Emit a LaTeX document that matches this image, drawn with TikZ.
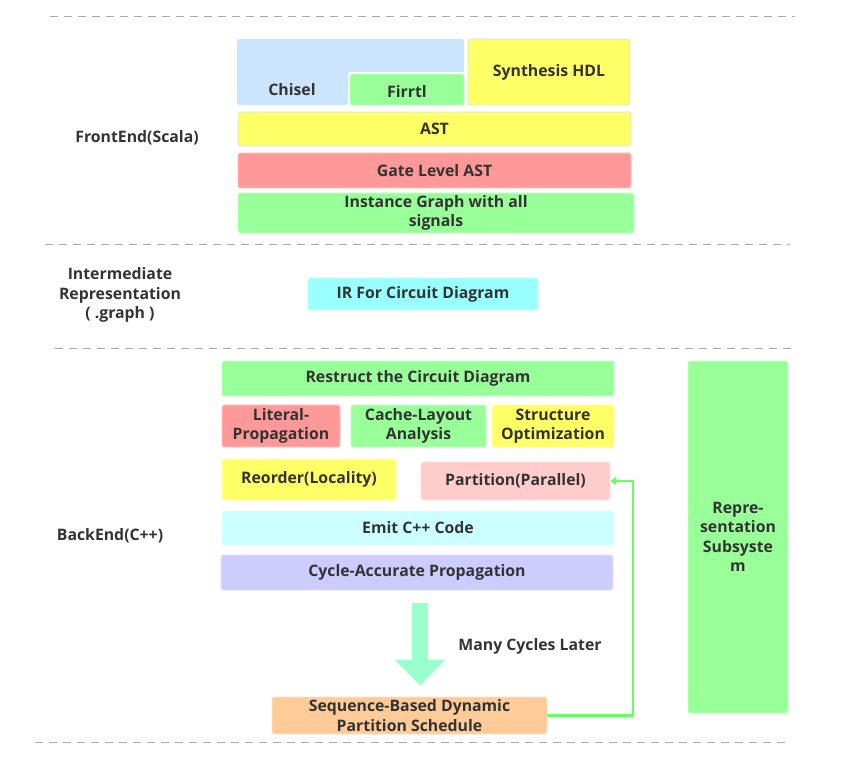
\documentclass[tikz,border=0pt]{standalone}
\usepackage{fontspec}
\setmainfont{Open Sans}
\usetikzlibrary{positioning,arrows.meta}
\definecolor{txtgray}{RGB}{51,51,51}
\definecolor{dashgray}{RGB}{170,170,170}
\definecolor{chiselblue}{RGB}{204,229,255}
\definecolor{firgreen}{RGB}{153,255,153}
\definecolor{hdlyellow}{RGB}{255,255,102}
\definecolor{astred}{RGB}{255,153,153}
\definecolor{ircyan}{RGB}{153,255,255}
\definecolor{partpink}{RGB}{255,204,204}
\definecolor{emitcyan}{RGB}{204,255,255}
\definecolor{cyclav}{RGB}{204,204,255}
\definecolor{arrmint}{RGB}{153,255,204}
\definecolor{seqorange}{RGB}{255,204,153}
\definecolor{fbgreen}{RGB}{102,255,102}

\begin{document}
\begin{tikzpicture}[x=0.03cm,y=-0.03cm,
    blk/.style={rounded corners=2pt,inner sep=0pt,align=center,text=txtgray,
                font=\bfseries\fontsize{13.5}{16.5}\selectfont,line width=0.7pt},
    wd/.style={minimum width=#1*0.03cm},
    ht/.style={minimum height=#1*0.03cm},
    lbl/.style={align=center,text=txtgray,font=\bfseries\fontsize{13.5}{16.5}\selectfont},
    sepline/.style={dashgray,line width=0.8pt,dash pattern=on 0.24cm off 0.18cm}]
    \useasboundingbox (0,0) rectangle (858,763);

    % layer separators
    \draw[sepline] (50,16) -- (795,16);
    \draw[sepline] (45,244) -- (790,244);
    \draw[sepline] (55,348) -- (795,348);
    \draw[sepline] (35,742) -- (785,742);

    % front end
    \node[lbl] (frontlbl) at (137,138) {FrontEnd(Scala)};
    \fill[chiselblue,rounded corners=2pt] (237,39) -- (464,39) -- (464,72)
        -- (348,72) -- (348,105) -- (237,105) -- cycle;
    \node[lbl] (chisel) at (292,90) {Chisel};
    \node[blk,fill=firgreen,draw=firgreen!60!white,wd=114,ht=31] (firrtl) at (407,89.5) {};
    \node[lbl] (firrtltxt) at (407,92) {Firrtl};
    \node[blk,fill=hdlyellow,draw=chiselblue,wd=162,ht=66] (hdl) at (549,72) {Synthesis HDL};
    \node[blk,fill=hdlyellow,draw=chiselblue,wd=393,ht=34] (ast) at (434.5,129) {AST};
    \node[blk,fill=astred,draw=astred!60!white,wd=393,ht=35] (gate) at (434.5,170.5) {Gate Level AST};
    \node[blk,fill=firgreen,draw=firgreen!60!white,wd=396,ht=40] (inst) at (436,213) {Instance Graph with all\\signals};

    % intermediate representation
    \node[lbl] (irlbl) at (120,295) {Intermediate\\Representation\\( .graph )};
    \node[blk,fill=ircyan,draw=ircyan!60!white,wd=230,ht=32] (ir) at (423,294) {IR For Circuit Diagram};

    % back end
    \node[lbl] (backlbl) at (110,536) {BackEnd(C++)};
    \node[blk,fill=firgreen,draw=firgreen!60!white,wd=392,ht=35] (restruct) at (418,378.5) {Restruct the Circuit Diagram};
    \node[blk,fill=astred,draw=astred!60!white,wd=118,ht=42] (literal) at (281,426) {Literal-\\Propagation};
    \node[blk,fill=firgreen,draw=firgreen!60!white,wd=135,ht=42] (cache) at (418.5,426) {Cache-Layout\\Analysis};
    \node[blk,fill=hdlyellow,draw=hdlyellow!60!white,wd=122,ht=42] (struct) at (553,426) {Structure\\Optimization};
    \node[blk,fill=hdlyellow,draw=hdlyellow!60!white,wd=174,ht=41] (reorder) at (309,479.5) {Reorder(Locality)};
    \node[blk,fill=partpink,draw=partpink!60!white,wd=189,ht=38] (part) at (515.5,481) {Partition(Parallel)};
    \node[blk,fill=emitcyan,draw=emitcyan!60!white,wd=392,ht=34] (emit) at (418,528) {Emit C++ Code};
    \node[blk,fill=cyclav,draw=cyclav!60!white,wd=392,ht=35] (cycle) at (417,572.5) {Cycle-Accurate Propagation};
    \node[blk,fill=seqorange,draw=seqorange!60!white,wd=275,ht=37] (seq) at (409.5,715.5) {Sequence-Based Dynamic\\Partition Schedule};
    \node[blk,fill=firgreen,draw=firgreen!60!white,wd=100,ht=352] (repr) at (738,537) {Repre-\\sentation\\Subsyste\\m};

    \coordinate (arrx) at (420,0);
    \coordinate (turn) at (633,0);
    \draw[arrmint,line width=0.48cm,-{Triangle[width=1.47cm,length=0.78cm]},
          shorten <=0.39cm,shorten >=0.33cm] (cycle.south -| arrx) -- (seq.north -| arrx);
    \node[lbl] (many) at (530,646) {Many Cycles Later};
    \draw[fbgreen,line width=2.4pt,-{Triangle[length=5pt,width=7pt]}]
        (seq.east) -| (turn |- part.east) -- (part.east);
\end{tikzpicture}
\end{document}
